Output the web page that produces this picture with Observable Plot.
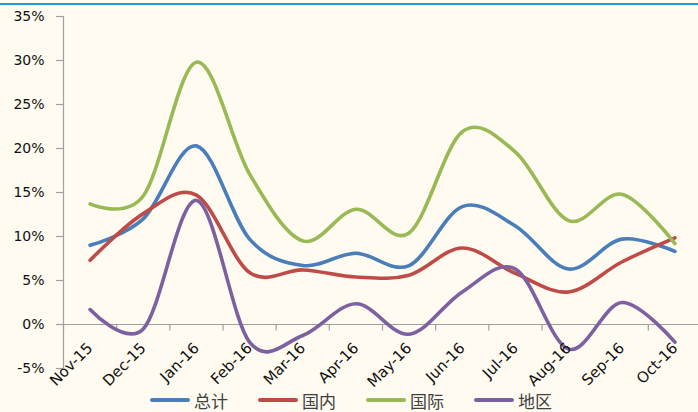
<!DOCTYPE html>
<html>
<head>
<meta charset="utf-8">
<script src="https://cdn.jsdelivr.net/npm/d3@7"></script>
<script src="https://cdn.jsdelivr.net/npm/@observablehq/plot@0.6"></script>
<style>
  html, body { margin: 0; padding: 0; background: #fffbf0; }
  #wrap { position: relative; width: 698px; height: 412px; overflow: hidden; background: #fffbf0; }
  #topbar { position: absolute; left: 0; top: 3px; width: 698px; height: 2px; background: #1e9bd7; }
  #chart { position: absolute; left: 0; top: 0; }
  #legend { position: absolute; left: 150px; top: 389px; height: 22px; display: flex; align-items: center;
            font-family: "Noto Sans CJK SC", sans-serif; font-size: 17px; color: #404040; }
  .item { display: flex; align-items: center; margin-right: 30px; }
  .sw { width: 40px; height: 4px; border-radius: 2px; margin-right: 4px; }
</style>
</head>
<body>
<div id="wrap">
  <div id="topbar"></div>
  <div id="chart"></div>
  <div id="legend"></div>
</div>
<script>
const months = ["Nov-15","Dec-15","Jan-16","Feb-16","Mar-16","Apr-16","May-16","Jun-16","Jul-16","Aug-16","Sep-16","Oct-16"];
const total = [9.0, 12.0, 20.3, 9.7, 6.7, 8.1, 6.7, 13.4, 11.2, 6.3, 9.7, 8.3];
const domestic = [7.3, 12.6, 14.7, 5.9, 6.2, 5.4, 5.6, 8.7, 5.8, 3.7, 7.1, 9.85];
const international = [13.7, 14.6, 29.8, 17.1, 9.5, 13.1, 10.4, 21.9, 19.6, 11.8, 14.8, 9.2];
const regional = [1.7, -0.5, 14.1, -2.0, -1.25, 2.35, -1.1, 3.7, 6.3, -2.8, 2.5, -2.0];
const seriesNames = ["总计", "国内", "国际", "地区"];
const seriesColors = ["#4a7ebb", "#be4b48", "#98b954", "#7d60a0"];
const yTicks = [-5, 0, 5, 10, 15, 20, 25, 30, 35];

const seriesValues = [total, domestic, international, regional];
const rows = [];
seriesValues.forEach((vals, s) => vals.forEach((v, i) => rows.push({i, v, s: seriesNames[s]})));
const bounds = d3.range(months.length + 1).map(k => k - 0.5);

const axisGray = "#a0a0a0";
const chart = Plot.plot({
  width: 698,
  height: 390,
  marginLeft: 63,
  marginRight: -3,
  marginTop: 16,
  marginBottom: 22,
  style: {background: "transparent", fontFamily: "DejaVu Sans, sans-serif", overflow: "visible"},
  x: {type: "linear", domain: [-0.5, months.length - 0.5], axis: null},
  y: {domain: [-5, 35], axis: null},
  color: {domain: seriesNames, range: seriesColors},
  marks: [
    Plot.ruleX([-0.5], {y1: -5, y2: 35, stroke: axisGray, strokeWidth: 1.2}),
    Plot.ruleY([0], {stroke: axisGray, strokeWidth: 1.2}),
    Plot.ruleX(bounds, {x: d => d, y1: 0, y2: -0.75, stroke: axisGray, strokeWidth: 1.2}),
    Plot.axisY(yTicks, {label: null, tickSize: 7, tickPadding: 12, tickFormat: d => d + "%", fontSize: 14, stroke: axisGray, color: "#111", strokeWidth: 1.2}),
    Plot.line(rows, {x: "i", y: "v", z: "s", stroke: "s", strokeWidth: 3.6, curve: "cardinal"}),
    Plot.text(months, {x: (d, i) => i, y: () => 0, text: d => d, rotate: -45, textAnchor: "end", lineAnchor: "top",
      dx: -4, dy: 17, fontSize: 15, fill: "#111"})
  ]
});
document.getElementById("chart").appendChild(chart);

const legend = document.getElementById("legend");
seriesNames.forEach((n, k) => {
  const it = document.createElement("div");
  it.className = "item";
  it.innerHTML = `<div class="sw" style="background:${seriesColors[k]}"></div><span>${n}</span>`;
  legend.appendChild(it);
});
</script>
</body>
</html>
